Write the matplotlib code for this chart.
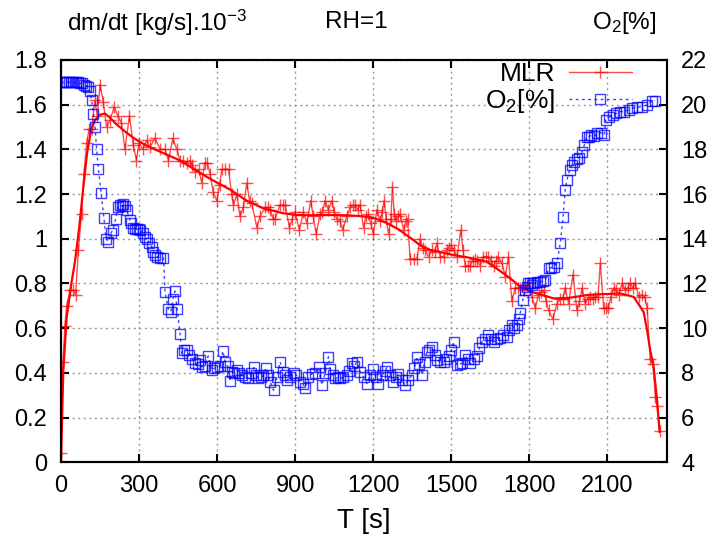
import numpy as np
import matplotlib
matplotlib.use("Agg")
import matplotlib.pyplot as plt
from matplotlib.ticker import FuncFormatter

plt.rcParams['font.family'] = ['Liberation Sans', 'DejaVu Sans']
plt.rcParams['mathtext.fontset'] = 'custom'
plt.rcParams['mathtext.rm'] = 'Liberation Sans'
plt.rcParams['mathtext.it'] = 'Liberation Sans'

# ---------- data ----------
# mass loss rate, raw (time [s], dm/dt [kg/s * 1e-3])
mlr_t = [0, 8, 15, 22, 35, 47, 56, 67, 79, 88, 99, 108, 118, 130, 140, 150, 163, 175, 188,
         205, 218, 232, 246, 263, 278, 290, 300, 314, 330, 342, 362, 381, 400, 413, 430, 445,
         458, 470, 484, 496, 505, 515, 530, 541, 553, 563, 573, 585, 599, 610, 618, 630, 644,
         656, 663, 676, 688, 701, 714, 725, 733, 753, 765, 785, 795, 804, 815, 823, 842, 852,
         862, 878, 889, 900, 916, 932, 945, 960, 970, 981, 996, 1005, 1015, 1028, 1041, 1050,
         1060, 1072, 1083, 1099, 1112, 1122, 1131, 1140, 1150, 1163, 1172, 1182, 1190, 1201,
         1214, 1227, 1235, 1242, 1250, 1259, 1268, 1274, 1281, 1288, 1296, 1304, 1317, 1325,
         1332, 1342, 1355, 1368, 1381, 1390, 1400, 1413, 1426, 1436, 1445, 1458, 1471, 1482,
         1490, 1499, 1509, 1522, 1537, 1545, 1554, 1563, 1573, 1582, 1592, 1600, 1611, 1624,
         1635, 1643, 1653, 1663, 1672, 1681, 1695, 1708, 1720, 1733, 1746, 1755, 1765, 1778,
         1797, 1810, 1823, 1836, 1845, 1855, 1865, 1874, 1891, 1906, 1919, 1928, 1938, 1951,
         1968, 1983, 1993, 2003, 2015, 2025, 2035, 2045, 2054, 2064, 2073, 2086, 2095, 2104,
         2114, 2124, 2134, 2143, 2157, 2169, 2178, 2188, 2198, 2208, 2220, 2233, 2243, 2253,
         2265, 2275, 2285, 2292, 2302]
mlr_v = [0.04, 0.45, 0.61, 0.70, 0.77, 0.77, 0.75, 0.95, 1.11, 1.29, 1.43, 1.49, 1.49, 1.62,
         1.55, 1.69, 1.61, 1.50, 1.53, 1.59, 1.55, 1.52, 1.40, 1.55, 1.42, 1.35, 1.43, 1.40,
         1.44, 1.41, 1.45, 1.40, 1.40, 1.35, 1.45, 1.40, 1.35, 1.35, 1.34, 1.35, 1.33, 1.30,
         1.31, 1.25, 1.34, 1.34, 1.29, 1.21, 1.17, 1.24, 1.31, 1.31, 1.31, 1.20, 1.15, 1.20,
         1.10, 1.14, 1.25, 1.17, 1.16, 1.05, 1.10, 1.14, 1.14, 1.13, 1.09, 1.09, 1.15, 1.15,
         1.15, 1.05, 1.09, 1.12, 1.04, 1.12, 1.07, 1.17, 1.10, 1.02, 1.11, 1.12, 1.17, 1.13,
         1.17, 1.12, 1.09, 1.08, 1.04, 1.10, 1.14, 1.15, 1.15, 1.13, 1.15, 1.05, 1.10, 1.11,
         1.07, 1.02, 1.13, 1.08, 1.12, 1.17, 1.09, 1.02, 1.09, 1.23, 1.11, 1.08, 1.10, 1.11,
         1.04, 1.08, 1.09, 0.91, 0.91, 0.91, 1.00, 0.96, 0.95, 0.92, 0.95, 0.94, 0.98, 0.92,
         0.92, 0.95, 0.96, 0.97, 0.95, 0.92, 1.04, 0.95, 0.88, 0.88, 0.88, 0.90, 0.91, 0.90,
         0.88, 0.92, 0.92, 0.92, 0.90, 0.88, 0.90, 0.92, 0.89, 0.83, 0.92, 0.72, 0.78, 0.78,
         0.78, 0.77, 0.80, 0.74, 0.69, 0.75, 0.76, 0.77, 0.72, 0.68, 0.64, 0.71, 0.73, 0.73,
         0.78, 0.71, 0.84, 0.68, 0.72, 0.78, 0.71, 0.73, 0.74, 0.73, 0.74, 0.74, 0.89, 0.69,
         0.69, 0.69, 0.74, 0.78, 0.77, 0.75, 0.80, 0.77, 0.78, 0.80, 0.78, 0.80, 0.74, 0.75,
         0.74, 0.69, 0.46, 0.44, 0.29, 0.25, 0.14]

# mass loss rate, smoothed
fit_t = [0, 9, 22, 40, 54, 70, 85, 100, 115, 130, 150, 169, 190, 210, 246, 280, 323, 360,
         400, 458, 541, 586, 650, 714, 778, 850, 906, 970, 1035, 1100, 1163, 1210, 1253, 1300,
         1355, 1381, 1419, 1460, 1509, 1570, 1637, 1701, 1735, 1765, 1800, 1830, 1894, 1950,
         2022, 2080, 2150, 2201, 2227, 2240, 2253, 2265, 2278, 2291, 2301]
fit_v = [0.0, 0.41, 0.65, 0.80, 0.90, 1.05, 1.22, 1.38, 1.48, 1.53, 1.555, 1.56, 1.54, 1.515,
         1.48, 1.45, 1.42, 1.40, 1.38, 1.35, 1.29, 1.26, 1.22, 1.17, 1.136, 1.115, 1.106,
         1.105, 1.106, 1.105, 1.10, 1.09, 1.07, 1.04, 0.994, 0.97, 0.95, 0.94, 0.927, 0.915,
         0.897, 0.845, 0.815, 0.785, 0.765, 0.755, 0.733, 0.735, 0.748, 0.752, 0.755, 0.74,
         0.695, 0.67, 0.59, 0.50, 0.427, 0.278, 0.136]

# oxygen concentration (time [s], O2 [%])
o2_t = [0, 8, 16, 24, 32, 40, 48, 56, 64, 72, 80, 88, 96, 104, 110, 118, 125, 131, 137, 144,
        154, 165, 173, 182, 192, 200, 210, 220, 227, 233, 240, 246, 253, 265, 270, 278, 285,
        291, 298, 304, 317, 323, 329, 340, 349, 355, 362, 370, 381, 394, 400, 413, 422, 430,
        438, 447, 458, 464, 473, 483, 494, 503, 515, 525, 535, 541, 552, 566, 579, 589, 599,
        610, 622, 631, 641, 650, 656, 666, 676, 686, 695, 708, 720, 732, 743, 751, 759, 770,
        778, 788, 796, 804, 817, 830, 842, 855, 862, 870, 880, 894, 905, 919, 930, 938, 950,
        964, 976, 990, 1003, 1015, 1028, 1035, 1045, 1054, 1064, 1073, 1085, 1099, 1108, 1118,
        1127, 1137, 1150, 1163, 1176, 1188, 1201, 1210, 1220, 1235, 1245, 1253, 1265, 1278,
        1288, 1297, 1310, 1323, 1335, 1349, 1358, 1368, 1378, 1388, 1398, 1407, 1416, 1426,
        1436, 1445, 1458, 1471, 1480, 1490, 1500, 1509, 1522, 1533, 1541, 1554, 1563, 1573,
        1586, 1599, 1608, 1618, 1630, 1643, 1652, 1663, 1675, 1688, 1700, 1714, 1723, 1733,
        1743, 1753, 1760, 1765, 1775, 1784, 1790, 1797, 1804, 1812, 1820, 1830, 1842, 1852,
        1862, 1874, 1884, 1894, 1906, 1919, 1930, 1938, 1945, 1955, 1964, 1973, 1982, 1990,
        2003, 2012, 2020, 2030, 2038, 2050, 2062, 2075, 2088, 2094, 2107, 2120, 2135, 2150,
        2163, 2182, 2195, 2214, 2233, 2253, 2272, 2284]
o2_v = [21.0, 21.0, 21.0, 21.0, 21.0, 21.0, 21.0, 21.0, 21.0, 20.95, 20.95, 20.9, 20.85, 20.8,
        20.6, 20.2, 19.6, 19.0, 18.0, 17.1, 16.05, 14.94, 14.0, 13.87, 14.25, 14.4, 14.9,
        15.43, 15.5, 15.46, 15.55, 15.46, 15.28, 14.84, 14.7, 14.5, 14.45, 14.42, 14.45, 14.39,
        14.25, 14.1, 14.0, 13.8, 13.64, 13.4, 13.27, 13.2, 13.13, 13.13, 11.6, 10.84, 10.73,
        11.29, 11.66, 10.84, 9.72, 8.87, 9.0, 9.02, 8.8, 8.64, 8.42, 8.4, 8.57, 8.27, 8.3,
        8.75, 8.12, 8.2, 8.27, 8.3, 8.98, 8.49, 8.3, 7.64, 8.04, 8.0, 8.12, 8.0, 7.90, 7.8,
        7.75, 8.0, 8.27, 7.9, 7.75, 7.8, 7.9, 8.20, 7.9, 7.60, 7.22, 7.8, 8.49, 8.04, 7.9,
        7.67, 7.8, 8.0, 7.9, 7.60, 7.5, 7.34, 7.8, 7.97, 8.0, 8.24, 7.45, 8.0, 8.72, 8.15,
        7.9, 7.75, 7.8, 7.75, 7.8, 7.90, 8.1, 8.42, 8.3, 8.49, 8.04, 7.8, 7.52, 7.9, 8.19,
        7.8, 7.52, 7.9, 8.1, 8.24, 7.9, 7.60, 7.8, 7.97, 7.7, 7.45, 7.7, 7.90, 8.2, 8.72,
        8.4, 7.90, 8.5, 8.94, 9.0, 9.16, 8.8, 8.57, 8.5, 8.49, 8.6, 8.75, 9.0, 9.39, 8.34,
        8.4, 8.42, 8.79, 8.6, 8.42, 8.6, 8.75, 9.1, 9.39, 9.5, 9.69, 9.5, 9.39, 9.5, 9.58,
        9.7, 9.61, 9.9, 10.13, 10.0, 10.13, 10.4, 10.66, 11.25, 11.70, 11.85, 12.0, 12.0,
        11.95, 12.0, 12.05, 12.07, 12.1, 12.15, 12.67, 12.7, 12.75, 12.9, 13.79, 14.98, 16.2,
        16.63, 17.08, 17.30, 17.45, 17.55, 17.6, 17.9, 18.2, 18.57, 18.57, 18.64, 18.6, 18.72,
        18.75, 18.64, 19.31, 19.43, 19.54, 19.61, 19.69, 19.69, 19.76, 19.84, 19.88, 19.91,
        19.99, 20.18, 20.18]

x_ticks = [0, 300, 600, 900, 1200, 1500, 1800, 2100]
y1_ticks = [0, 0.2, 0.4, 0.6, 0.8, 1.0, 1.2, 1.4, 1.6, 1.8]
y2_ticks = [4, 6, 8, 10, 12, 14, 16, 18, 20, 22]

# ---------- figure ----------
fig = plt.figure(figsize=(7.09, 5.40), dpi=100)
ax = fig.add_axes([0.086, 0.144, 0.855, 0.745])
ax2 = ax.twinx()

ax.plot(mlr_t, mlr_v, color='red', lw=1.0, alpha=0.7, marker='+', ms=9, mew=1.0,
        label='MLR')
ax.plot(fit_t, fit_v, color='red', lw=1.6)

ax2.plot(o2_t, o2_v, color='blue', lw=1.0, ls=(0, (2, 2.5)), marker='s', ms=6.5,
         mfc='none', mew=1.0, alpha=0.75, label='O$_2$[%]')

ax.set_xlim(0, 2330)
ax.set_ylim(0, 1.8)
ax2.set_ylim(4, 22)
ax.set_xticks(x_ticks)
ax.set_yticks(y1_ticks)
ax2.set_yticks(y2_ticks)
ax.yaxis.set_major_formatter(FuncFormatter(lambda v, p: '%g' % v))

ax.grid(True, color='#999999', ls=(0, (1.5, 2.5)), lw=1.0)
ax.tick_params(axis='x', direction='in', top=True, length=6, width=1.5, labelsize=17, pad=9)
ax.tick_params(axis='y', direction='in', length=6, width=1.5, labelsize=17, pad=10)
ax2.tick_params(axis='y', direction='in', length=6, width=1.5, labelsize=17, pad=10)
for a in (ax, ax2):
    for s in a.spines.values():
        s.set_linewidth(1.5)

ax.set_xlabel('T [s]', fontsize=20, labelpad=8)

fig.text(0.221, 0.957, 'dm/dt [kg/s].10$^{-3}$', fontsize=17.5, ha='center', va='center')
fig.text(0.502, 0.960, 'RH=1', fontsize=17.5, ha='center', va='center')
fig.text(0.880, 0.957, 'O$_2$[%]', fontsize=17.5, ha='center', va='center')

h1, l1 = ax.get_legend_handles_labels()
h2, l2 = ax2.get_legend_handles_labels()
ax2.legend(h1 + h2, l1 + l2, loc='upper right', bbox_to_anchor=(0.942, 0.995),
           frameon=False, markerfirst=False, numpoints=1, handlelength=2.4,
           fontsize=19, labelspacing=0.05, handletextpad=0.5, borderpad=0,
           borderaxespad=0)

fig.savefig('out.png', dpi=100)
